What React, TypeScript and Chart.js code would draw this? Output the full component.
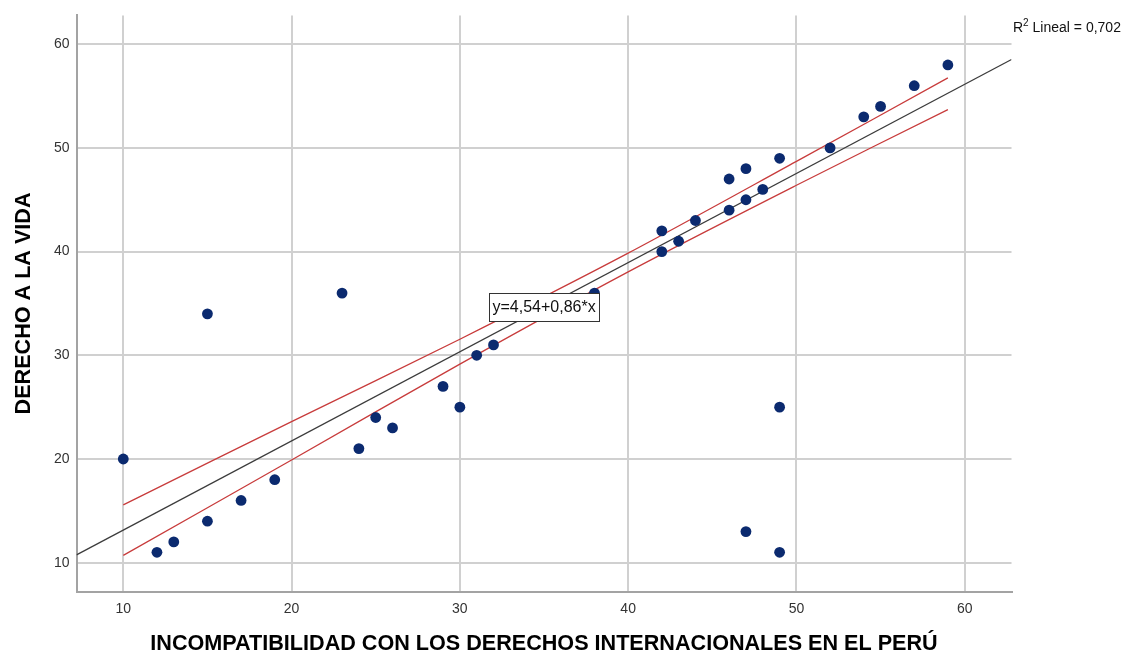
import React, { useEffect, useRef } from "react";
import { Chart, registerables } from "chart.js";

Chart.register(...registerables);

// ---- data ----
const xValues = [10, 12, 13, 15, 15, 17, 19, 23, 24, 25, 26, 29, 30, 31, 32, 38, 42, 42, 43, 44, 46, 46, 47, 47, 47, 48, 49, 49, 49, 52, 54, 55, 57, 59];
const yValues = [20, 11, 12, 14, 34, 16, 18, 36, 21, 24, 23, 27, 25, 30, 31, 36, 42, 40, 41, 43, 47, 44, 48, 45, 13, 46, 49, 25, 11, 50, 53, 54, 56, 58];

const fitX = [7.22, 62.78];
const fitY = [10.75, 58.53];

const bandX = [10, 20, 30, 40, 50, 59];
const upperY = [15.58, 23.6, 31.55, 39.85, 48.7, 56.75];
const lowerY = [10.7, 19.9, 29.15, 38.05, 46.4, 53.7];

const xTicks = [10, 20, 30, 40, 50, 60];
const yTicks = [10, 20, 30, 40, 50, 60];
const axisMin = 7.22;
const axisMax = 62.78;

const xTitle = "INCOMPATIBILIDAD CON LOS DERECHOS INTERNACIONALES EN EL PERÚ";
const yTitle = "DERECHO A LA VIDA";
const equationText = "y=4,54+0,86*x";
const equationAnchor = { x: 31.73, y: 36.0 };
const r2Label = "Lineal = 0,702";

const FAMILY = '"Liberation Sans", Arial, Helvetica, sans-serif';

const annotPlugin = {
  id: "annot",
  afterDatasetsDraw(chart: any) {
    const ctx = chart.ctx;
    const xs = chart.scales.x;
    const ys = chart.scales.y;
    ctx.save();
    ctx.font = `16px ${FAMILY}`;
    const tw = ctx.measureText(equationText).width;
    const bx = Math.round(xs.getPixelForValue(equationAnchor.x));
    const by = Math.round(ys.getPixelForValue(equationAnchor.y));
    const bw = Math.round(tw + 7);
    const bh = 28;
    ctx.fillStyle = "#ffffff";
    ctx.fillRect(bx, by, bw, bh);
    ctx.strokeStyle = "#333333";
    ctx.lineWidth = 1;
    ctx.strokeRect(bx + 0.5, by + 0.5, bw, bh);
    ctx.fillStyle = "#111111";
    ctx.textBaseline = "middle";
    ctx.textAlign = "left";
    ctx.fillText(equationText, bx + 3.5, by + bh / 2 + 1);
    ctx.restore();
  },
  afterDraw(chart: any) {
    const ctx = chart.ctx;
    const area = chart.chartArea;
    ctx.save();
    ctx.fillStyle = "#111111";
    ctx.textBaseline = "alphabetic";
    ctx.textAlign = "left";
    let x = area.right + 1.5;
    const base = 31.5;
    ctx.font = `14px ${FAMILY}`;
    ctx.fillText("R", x, base);
    x += ctx.measureText("R").width;
    ctx.font = `10px ${FAMILY}`;
    ctx.fillText("2", x, base - 6);
    x += ctx.measureText("2").width;
    ctx.font = `14px ${FAMILY}`;
    ctx.fillText(" " + r2Label, x, base);
    ctx.restore();
  },
};

export default function App() {
  const canvasRef = useRef<HTMLCanvasElement | null>(null);

  useEffect(() => {
    const canvas = canvasRef.current;
    if (!canvas) return;
    const points = xValues.map((x, i) => ({ x, y: yValues[i] }));
    const fit = fitX.map((x, i) => ({ x, y: fitY[i] }));
    const upper = bandX.map((x, i) => ({ x, y: upperY[i] }));
    const lower = bandX.map((x, i) => ({ x, y: lowerY[i] }));

    const chart = new Chart(canvas, {
      type: "scatter",
      data: {
        datasets: [
          {
            type: "scatter",
            data: points,
            pointRadius: 5.4,
            pointHoverRadius: 5.4,
            backgroundColor: "#0b2a6f",
            borderWidth: 0,
          },
          {
            type: "line",
            data: fit,
            borderColor: "#3c3c3c",
            borderWidth: 1.3,
            pointRadius: 0,
            fill: false,
            tension: 0,
          },
          {
            type: "line",
            data: upper,
            borderColor: "#c83c3c",
            borderWidth: 1.3,
            pointRadius: 0,
            fill: false,
            tension: 0.3,
          },
          {
            type: "line",
            data: lower,
            borderColor: "#c83c3c",
            borderWidth: 1.3,
            pointRadius: 0,
            fill: false,
            tension: 0.3,
          },
        ] as any,
      },
      options: {
        responsive: false,
        animation: false,
        devicePixelRatio: 1,
        layout: { padding: { left: 0, right: 115.5, top: 13.5, bottom: 0 } },
        plugins: {
          legend: { display: false },
          tooltip: { enabled: false },
        },
        scales: {
          x: {
            type: "linear",
            min: axisMin,
            max: axisMax,
            afterBuildTicks: (s: any) => {
              s.ticks = xTicks.map((v) => ({ value: v }));
            },
            afterFit: (s: any) => {
              s.height = 63.5;
            },
            grid: { color: "#d0d0d0", lineWidth: 2, drawTicks: false },
            border: { display: true, color: "#a3a3a3", width: 2 },
            ticks: { padding: 9, color: "#333333", font: { size: 14, family: FAMILY } },
            title: {
              display: true,
              text: xTitle,
              color: "#000000",
              font: { size: 21.6, weight: "bold", family: FAMILY, lineHeight: 1 },
              padding: { top: 0, bottom: 0 },
            },
          },
          y: {
            type: "linear",
            min: axisMin,
            max: axisMax,
            afterBuildTicks: (s: any) => {
              s.ticks = yTicks.map((v) => ({ value: v }));
            },
            afterFit: (s: any) => {
              s.width = 76.5;
            },
            grid: { color: "#d0d0d0", lineWidth: 2, drawTicks: false },
            border: { display: true, color: "#a3a3a3", width: 2 },
            ticks: { padding: 7, color: "#333333", font: { size: 14, family: FAMILY } },
            title: {
              display: true,
              text: yTitle,
              color: "#000000",
              font: { size: 21.6, weight: "bold", family: FAMILY, lineHeight: 1 },
              padding: { top: 13.2, bottom: 0 },
            },
          },
        },
      } as any,
      plugins: [annotPlugin],
    });
    return () => chart.destroy();
  }, []);

  return (
    <div style={{ position: "absolute", left: 0, top: 0, width: 1127, height: 655, background: "#ffffff" }}>
      <canvas ref={canvasRef} width={1127} height={655} style={{ display: "block" }} />
    </div>
  );
}
